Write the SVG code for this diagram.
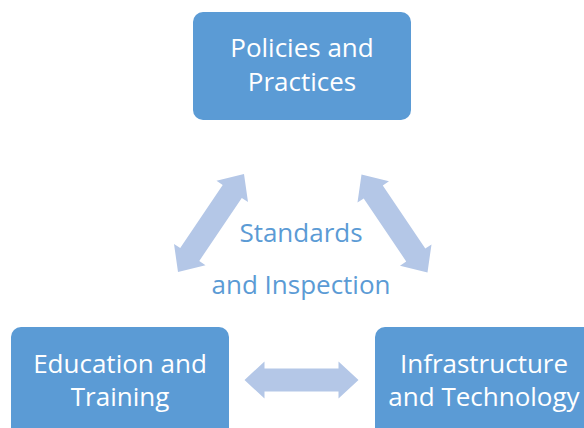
<svg xmlns="http://www.w3.org/2000/svg" width="584" height="428" viewBox="0 0 584 428">
  <defs>
    <style>
      .box { fill: #5B9BD5; }
      .lbl { font-family: "Open Sans", "Noto Sans", sans-serif; font-size: 26px; fill: #FFFFFF; text-anchor: middle; }
      .mid { font-family: "Open Sans", "Noto Sans", sans-serif; font-size: 26px; fill: #5B9BD5; text-anchor: middle; }
      .arr { fill: #B4C7E7; }
    </style>
  </defs>
  <rect width="584" height="428" fill="#FFFFFF"/>
  <g id="node-policies">
    <rect class="box" x="193" y="12" width="218" height="108" rx="10"/>
    <text class="lbl" x="302" y="57">Policies and</text>
    <text class="lbl" x="302" y="91">Practices</text>
  </g>
  <g id="node-education">
    <rect class="box" x="11" y="327" width="218" height="120" rx="10"/>
    <text class="lbl" x="120" y="373">Education and</text>
    <text class="lbl" x="120" y="406">Training</text>
  </g>
  <g id="node-infrastructure">
    <rect class="box" x="375" y="327" width="230" height="120" rx="10"/>
    <text class="lbl" x="484" y="373">Infrastructure</text>
    <text class="lbl" x="484" y="406">and Technology</text>
  </g>
  <g id="label-center">
    <text class="mid" x="301" y="242">Standards</text>
    <text class="mid" x="301" y="294">and Inspection</text>
  </g>
  <g id="connectors">
    <polygon class="arr" transform="translate(211,223) rotate(-56)" points="-59,0 -38,-19 -38,-11.5 38,-11.5 38,-19 59,0 38,19 38,11.5 -38,11.5 -38,19"/>
    <polygon class="arr" transform="translate(394.5,223.5) rotate(56)" points="-59,0 -38,-19 -38,-11.5 38,-11.5 38,-19 59,0 38,19 38,11.5 -38,11.5 -38,19"/>
    <polygon class="arr" transform="translate(301.5,380)" points="-57,0 -37,-18.5 -37,-11.5 37,-11.5 37,-18.5 57,0 37,18.5 37,11.5 -37,11.5 -37,18.5"/>
  </g>
</svg>
